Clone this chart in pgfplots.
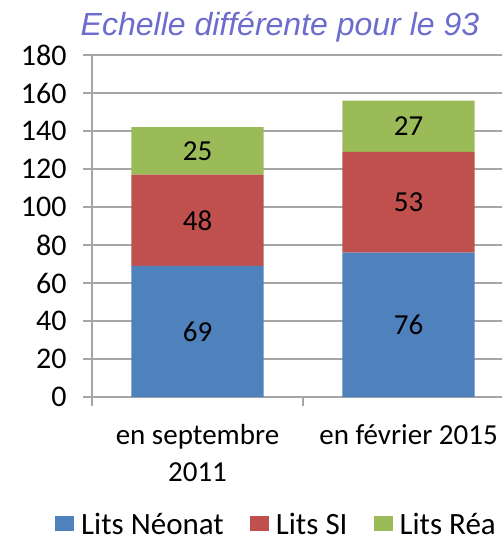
\documentclass[border=0pt]{standalone}
\usepackage{pgfplots}
\pgfplotsset{compat=1.18}
\usepackage{fontspec}
\setmainfont{Carlito}
\newfontfamily\titlefont{Liberation Sans}
\definecolor{cblue}{RGB}{79,129,189}
\definecolor{cred}{RGB}{192,80,77}
\definecolor{cgreen}{RGB}{155,187,89}
\definecolor{ctitle}{RGB}{108,108,206}
\definecolor{cgrid}{RGB}{165,165,165}
\pgfplotsset{mylegend/.style={legend image code/.code={\fill[##1,draw=none] (0bp,-7bp) rectangle (19bp,8bp);}}}
\begin{document}
\begin{tikzpicture}
\path[use as bounding box] (-92bp,-147bp) rectangle (410bp,397bp);
\begin{axis}[
  at={(0,0)}, anchor=south west, scale only axis,
  width=410bp, height=342bp,
  xmin=-0.5, xmax=1.443, ymin=0, ymax=180,
  ytick={0,20,...,180},
  ybar stacked, bar width=0.626,
  axis x line*=bottom, axis y line*=left,
  ymajorgrids, grid style={cgrid, line width=1.2bp},
  axis line style={cgrid, line width=1.2bp, -},
  tick style={cgrid, line width=1.2bp},
  major tick length=9bp,
  tick align=outside,
  xtick={-0.5,0.5}, xticklabels={},
  extra x ticks={0,1},
  extra x tick labels={{en septembre\\2011},{en février 2015}},
  extra x tick style={major tick length=0pt},
  xticklabel style={align=center, font=\fontsize{29bp}{37bp}\selectfont, yshift=-24bp},
  yticklabel style={font=\fontsize{30bp}{36bp}\selectfont, xshift=-13bp},
  /pgf/number format/assume math mode=true,
  title={\titlefont\itshape Echelle différente pour le 93},
  title style={at={(axis description cs:0.4585,1.040)}, anchor=base, font=\fontsize{32bp}{38bp}\selectfont, text=ctitle},
  legend columns=3,
  legend style={at={(axis description cs:-0.0902,-0.372)}, anchor=west, draw=none, fill=none, inner sep=0pt,
    font=\fontsize{31bp}{37bp}\selectfont,
    nodes={inner ysep=0pt, text depth=0pt},
    /tikz/every odd column/.style={column sep=5bp},
    /tikz/every even column/.style={column sep=24bp}},
  legend cell align=left,
]
\addplot[fill=cblue, draw=none, mylegend] coordinates {(0,69) (1,76)};
\addplot[fill=cred, draw=none, mylegend] coordinates {(0,48) (1,53)};
\addplot[fill=cgreen, draw=none, mylegend] coordinates {(0,25) (1,27)};
\legend{Lits Néonat, Lits SI, Lits Réa}
\end{axis}
\begin{axis}[
  at={(0,0)}, anchor=south west, scale only axis,
  width=410bp, height=342bp,
  xmin=-0.5, xmax=1.443, ymin=0, ymax=180,
  hide axis,
]
\addplot[draw=none, mark=none, nodes near coords, point meta=explicit symbolic,
  every node near coord/.append style={anchor=center, font=\fontsize{29bp}{34bp}\selectfont, text=black}]
  coordinates {(0,34.5) [69] (0,93) [48] (0,129.5) [25] (1,38) [76] (1,102.5) [53] (1,142.5) [27]};
\end{axis}
\end{tikzpicture}
\end{document}
